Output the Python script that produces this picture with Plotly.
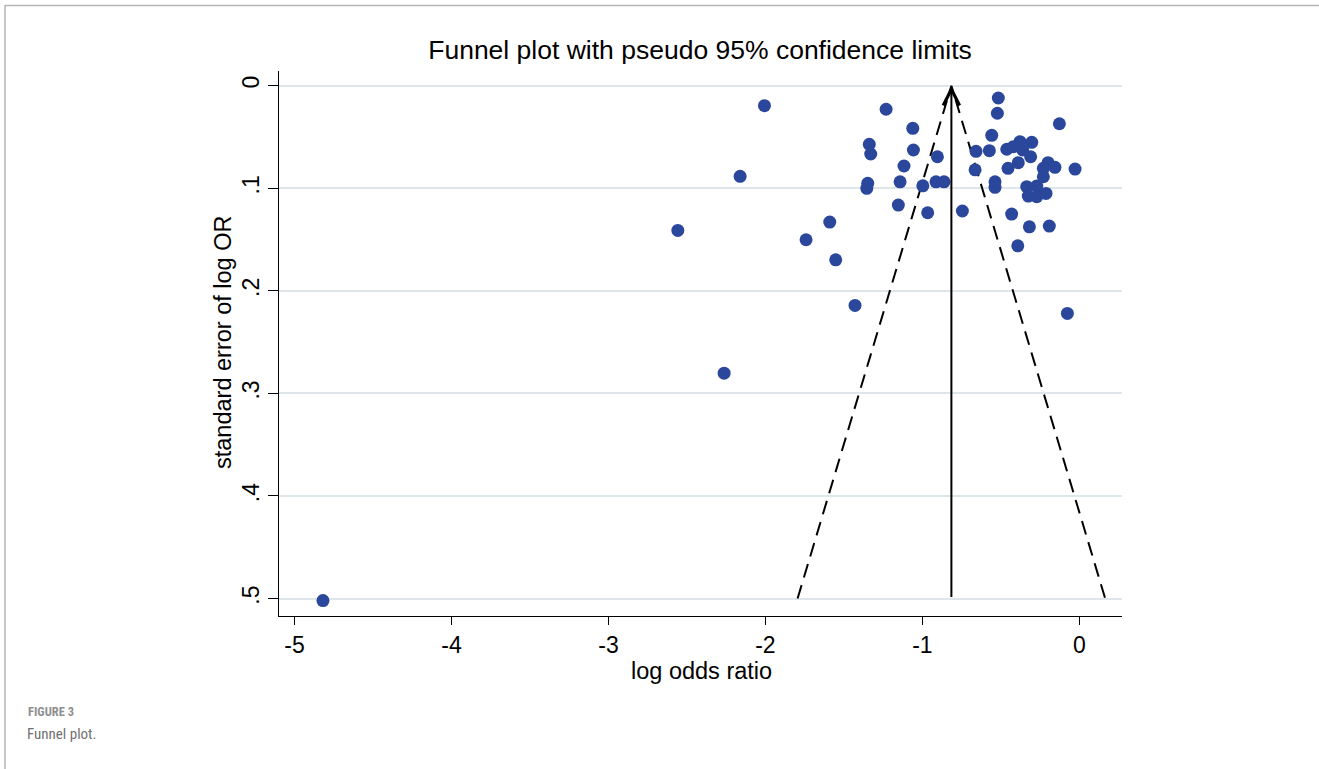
import plotly.graph_objects as go

# ---- data ----
log_or = [-2.006, -2.161, -2.558, -1.590, -1.741, -1.552, -1.429, -2.263, -4.819, -0.076,
          -1.231, -1.061, -1.338, -1.329, -1.057, -0.904, -1.117, -1.348, -1.354, -1.142,
          -0.997, -0.913, -0.862, -1.153, -0.966, -0.745, -0.516, -0.522, -0.127, -0.558,
          -0.658, -0.573, -0.462, -0.378, -0.303, -0.420, -0.361, -0.310, -0.389, -0.454,
          -0.199, -0.229, -0.155, -0.027, -0.664, -0.229, -0.537, -0.537, -0.335, -0.271,
          -0.325, -0.271, -0.212, -0.431, -0.318, -0.191, -0.392]
se_log_or = [0.0195, 0.0884, 0.1411, 0.1330, 0.1502, 0.1698, 0.2142, 0.2803, 0.5020, 0.2220,
             0.0230, 0.0416, 0.0572, 0.0666, 0.0627, 0.0693, 0.0783, 0.0952, 0.1001, 0.0937,
             0.0976, 0.0937, 0.0937, 0.1164, 0.1239, 0.1222, 0.0120, 0.0269, 0.0371, 0.0484,
             0.0640, 0.0634, 0.0620, 0.0546, 0.0552, 0.0595, 0.0627, 0.0693, 0.0751, 0.0806,
             0.0751, 0.0806, 0.0796, 0.0813, 0.0820, 0.0888, 0.0937, 0.0991, 0.0985, 0.0979,
             0.1076, 0.1083, 0.1050, 0.1252, 0.1376, 0.1369, 0.1561]
pooled = -0.815
se_max = 0.5
z95 = 1.96

x_ticks = [-5, -4, -3, -2, -1, 0]
x_ticktext = ["-5", "-4", "-3", "-2", "-1", "0"]
y_ticks = [0, 0.1, 0.2, 0.3, 0.4, 0.5]
y_ticktext = ["0", ".1", ".2", ".3", ".4", ".5"]

# ---- layout geometry ----
W, H = 1319, 769
L, R, T, B = 279, 1122, 71, 616
pw, ph = R - L, B - T
def px(xp): return (xp - L) / pw
def py(yp): return (B - yp) / ph

FONT = "Liberation Sans, Arial, sans-serif"
CAPFONT = "Liberation Sans Narrow, Roboto Condensed, Lato, sans-serif"
dot = "#2a479c"

fig = go.Figure()

# funnel limits
fig.add_trace(go.Scatter(x=[pooled - z95 * se_max, pooled, pooled + z95 * se_max],
                         y=[se_max, 0, se_max], mode="lines",
                         line=dict(color="black", width=2, dash="14px,8px"),
                         hoverinfo="skip", showlegend=False))
# studies
fig.add_trace(go.Scatter(x=log_or, y=se_log_or, mode="markers",
                         marker=dict(color=dot, size=13, line=dict(width=0)),
                         showlegend=False))

# pooled line with arrow
fig.add_annotation(x=pooled, y=0, ax=pooled, ay=se_max, xref="x", yref="y",
                   axref="x", ayref="y", showarrow=True, arrowhead=5,
                   arrowsize=1.6, arrowwidth=2, arrowcolor="black", text="")

# page frame
fig.add_shape(type="line", xref="paper", yref="paper", x0=px(5), x1=px(W), y0=py(5.5), y1=py(5.5),
              line=dict(color="#b5b5b5", width=1.5))
fig.add_shape(type="line", xref="paper", yref="paper", x0=px(5), x1=px(5), y0=py(5), y1=py(H + 5),
              line=dict(color="#b5b5b5", width=1.5))

# axis titles
fig.add_annotation(xref="paper", yref="paper", x=px(701), y=py(671), xanchor="center", yanchor="middle",
                   text="log odds ratio", showarrow=False, font=dict(family=FONT, size=23.5, color="black"))
fig.add_annotation(xref="paper", yref="paper", x=px(223), y=py(343), xanchor="center", yanchor="middle",
                   text="standard error of log OR", textangle=-90, showarrow=False,
                   font=dict(family=FONT, size=23.5, color="black"))

# caption
fig.add_annotation(xref="paper", yref="paper", x=px(26), y=py(711), xanchor="left", yanchor="middle",
                   text="<b>FIGURE 3</b>", showarrow=False,
                   font=dict(family=CAPFONT, size=12.5, color="#8f8f8f"))
fig.add_annotation(xref="paper", yref="paper", x=px(25), y=py(734), xanchor="left", yanchor="middle",
                   text="Funnel plot.", showarrow=False,
                   font=dict(family=CAPFONT, size=15, color="#707070"))

fig.update_layout(
    width=W, height=H,
    margin=dict(l=L, r=W - R, t=T, b=H - B, autoexpand=False),
    paper_bgcolor="white", plot_bgcolor="white",
    font=dict(family=FONT, color="black"),
    title=dict(text="Funnel plot with pseudo 95% confidence limits", xref="container", x=700 / W,
               xanchor="center", yref="container", y=1 - 50 / H, yanchor="middle",
               font=dict(size=26.5, family=FONT, color="black")),
    xaxis=dict(range=[-5.099, 0.272], tickvals=x_ticks, ticktext=x_ticktext,
               showgrid=False, zeroline=False, showline=True, linecolor="black", linewidth=1.3,
               ticks="outside", ticklen=8, tickwidth=1.3, tickcolor="black",
               tickfont=dict(size=23), automargin=False),
    yaxis=dict(range=[0.517, -0.0143], tickvals=y_ticks, ticktext=y_ticktext,
               showgrid=True, gridcolor="#dfe6ea", gridwidth=2, zeroline=False,
               showline=True, linecolor="black", linewidth=1.3,
               ticks="outside", ticklen=10, tickwidth=1.3, tickcolor="black",
               tickangle=-90, tickfont=dict(size=23), automargin=False),
)

fig.write_html("out.html", config={"displayModeBar": False},
               post_script="document.body.style.margin='0';")
